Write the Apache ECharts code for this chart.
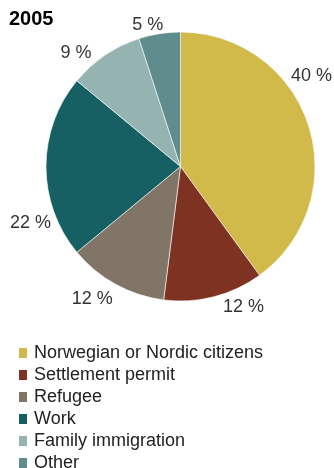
<!DOCTYPE html>
<html>
<head>
<meta charset="utf-8">
<script src="https://cdn.jsdelivr.net/npm/echarts@6/dist/echarts.min.js"></script>
<style>
  html, body { margin: 0; padding: 0; background: #fff; }
  #chart { width: 334px; height: 468px; }
</style>
</head>
<body>
<div id="chart"></div>
<script>
// Immigration reasons, share in percent
const title = '2005';
const categories = [
  'Norwegian or Nordic citizens',
  'Settlement permit',
  'Refugee',
  'Work',
  'Family immigration',
  'Other'
];
const shares = [40, 12, 12, 22, 9, 5];
const colors = ['#d1b94a', '#7e3221', '#817567', '#165f62', '#95b3b1', '#5f8c8c'];

const font = '"Liberation Sans", Arial, Helvetica, sans-serif';

// small hand nudges so the outside labels sit clear of each other
const labelNudge = [[-34, -46], [-2, 3], [10, 8], [22, 57], [0, 4], [14, -1]];

const chart = echarts.init(document.getElementById('chart'), null, { renderer: 'canvas' });

chart.setOption({
  animation: false,
  title: {
    text: title,
    left: 4,
    top: 4,
    textStyle: { fontFamily: font, fontSize: 20, fontWeight: 'bold', color: '#000' }
  },
  legend: {
    orient: 'vertical',
    left: 17,
    top: 344,
    height: 200,
    padding: 0,
    itemWidth: 10,
    itemHeight: 12,
    itemGap: 4,
    icon: 'rect',
    textStyle: { fontFamily: font, fontSize: 18, color: '#222', lineHeight: 18, padding: [0, 0, 0, 1] },
    data: categories
  },
  series: [{
    type: 'pie',
    center: [180.5, 166.5],
    radius: [0, 134.5],
    startAngle: 90,
    clockwise: true,
    silent: true,
    avoidLabelOverlap: false,
    itemStyle: { borderColor: '#fff', borderWidth: 0.6 },
    label: {
      show: true,
      position: 'outside',
      formatter: '{c} %',
      fontFamily: font,
      fontSize: 18,
      color: '#333',
      overflow: 'none'
    },
    labelLine: { show: false, length: 8, length2: 4 },
    labelLayout: (p) => ({ dx: labelNudge[p.dataIndex][0], dy: labelNudge[p.dataIndex][1] }),
    data: categories.map((name, i) => ({
      name,
      value: shares[i],
      itemStyle: { color: colors[i] }
    }))
  }]
});
</script>
</body>
</html>
